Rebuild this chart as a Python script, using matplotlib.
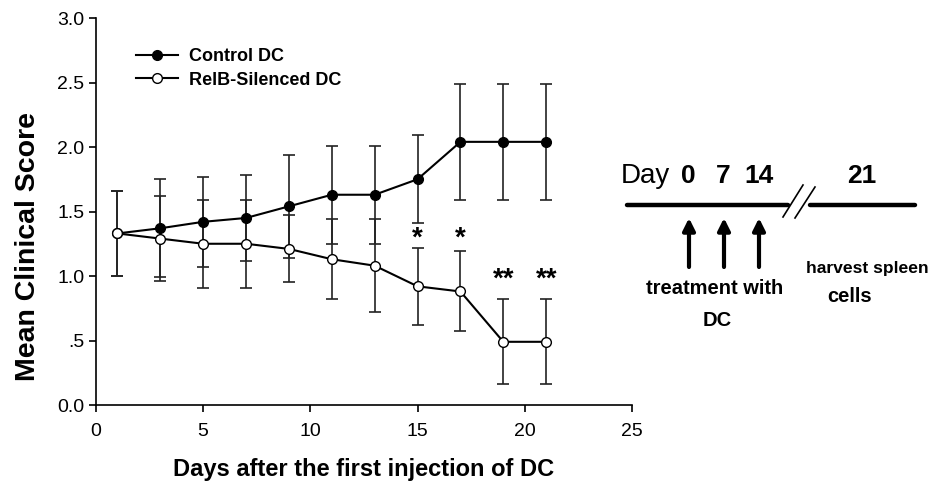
import matplotlib
matplotlib.use("Agg")
import matplotlib.pyplot as plt
from matplotlib.lines import Line2D

plt.rcParams['font.family'] = ['Liberation Sans', 'DejaVu Sans']

days = [1, 3, 5, 7, 9, 11, 13, 15, 17, 19, 21]
control = [1.33, 1.37, 1.42, 1.45, 1.54, 1.63, 1.63, 1.75, 2.04, 2.04, 2.04]
control_err = [0.33, 0.38, 0.35, 0.33, 0.40, 0.38, 0.38, 0.34, 0.45, 0.45, 0.45]
relb = [1.33, 1.29, 1.25, 1.25, 1.21, 1.13, 1.08, 0.92, 0.88, 0.49, 0.49]
relb_err = [0.33, 0.33, 0.34, 0.34, 0.26, 0.31, 0.36, 0.30, 0.31, 0.33, 0.33]

sig_days = [15, 17, 19, 21]
sig_marks = ['*', '*', '**', '**']
sig_y = [1.29, 1.29, 0.97, 0.97]

yticks = [0.0, 0.5, 1.0, 1.5, 2.0, 2.5, 3.0]
ytick_labels = ['0.0', '.5', '1.0', '1.5', '2.0', '2.5', '3.0']
xticks = [0, 5, 10, 15, 20, 25]

fig = plt.figure(figsize=(9.3, 4.84), dpi=100)
ax = fig.add_axes([0.1032, 0.1632, 0.5763, 0.7996])

eb = dict(fmt='none', ecolor='#222222', elinewidth=1.2, capsize=4.5, capthick=1.2)
ax.errorbar(days, control, yerr=control_err, zorder=2, **eb)
ax.errorbar(days, relb, yerr=relb_err, zorder=2, **eb)
ax.plot(days, control, color='black', lw=1.5, marker='o', ms=7,
        mfc='black', mec='black', zorder=3)
ax.plot(days, relb, color='black', lw=1.5, marker='o', ms=7,
        mfc='white', mec='black', zorder=4)

for d, m, y in zip(sig_days, sig_marks, sig_y):
    ax.text(d, y, m, ha='center', va='center', fontsize=20, fontweight='bold')

ax.set_xlim(0, 25)
ax.set_ylim(0, 3.0)
ax.set_xticks(xticks)
ax.set_yticks(yticks)
ax.set_yticklabels(ytick_labels)
ax.tick_params(direction='out', labelsize=14, length=5, width=1.2)
ax.tick_params(axis='x', pad=8)
for s in ['top', 'right']:
    ax.spines[s].set_visible(False)
for s in ['left', 'bottom']:
    ax.spines[s].set_linewidth(1.2)

ax.set_xlabel('Days after the first injection of DC', fontsize=17, fontweight='bold', labelpad=13)
ax.set_ylabel('Mean Clinical Score', fontsize=20.5, fontweight='bold')
ax.yaxis.set_label_coords(-0.103, 0.41)

handles = [Line2D([], [], color='black', lw=1.5, marker='o', ms=7, mfc='black', mec='black'),
           Line2D([], [], color='black', lw=1.5, marker='o', ms=7, mfc='white', mec='black')]
ax.legend(handles, ['Control DC', 'RelB-Silenced DC'], loc='upper left',
          bbox_to_anchor=(0.062, 0.94), frameon=False,
          prop={'weight': 'bold', 'size': 13}, handlelength=2.3,
          handletextpad=0.6, labelspacing=0.35, borderaxespad=0)

# timeline diagram on the right, in pixel coordinates
tl = fig.add_axes([0, 0, 1, 1])
tl.set_xlim(0, 930)
tl.set_ylim(484, 0)
tl.axis('off')

tl_days = ['0', '7', '14', '21']
tl_day_x = [688, 723, 759, 862]
arrow_x = [689, 724, 759]

tl.text(621, 176, 'Day', fontsize=20, ha='left', va='center')
for lab, x in zip(tl_days, tl_day_x):
    tl.text(x, 176, lab, fontsize=19, fontweight='bold', ha='center', va='center')
tl.plot([627, 788], [205, 205], color='black', lw=3.2, solid_capstyle='round')
tl.plot([810, 915], [205, 205], color='black', lw=3.2, solid_capstyle='round')
tl.plot([783, 803], [217, 185], color='black', lw=1.2)
tl.plot([795, 815], [218, 187], color='black', lw=1.2)
for x in arrow_x:
    tl.annotate('', xy=(x, 218), xytext=(x, 267),
                arrowprops=dict(arrowstyle='-|>', color='black', lw=3,
                                mutation_scale=18, shrinkA=0, shrinkB=0))
tl.text(715, 288, 'treatment with', fontsize=14.5, fontweight='bold', ha='center', va='center')
tl.text(717, 320, 'DC', fontsize=14.5, fontweight='bold', ha='center', va='center')
tl.text(806, 268, 'harvest spleen', fontsize=12.6, fontweight='bold', ha='left', va='center')
tl.text(850, 297, 'cells', fontsize=14.5, fontweight='bold', ha='center', va='center')

fig.savefig('out.png', dpi=100)
